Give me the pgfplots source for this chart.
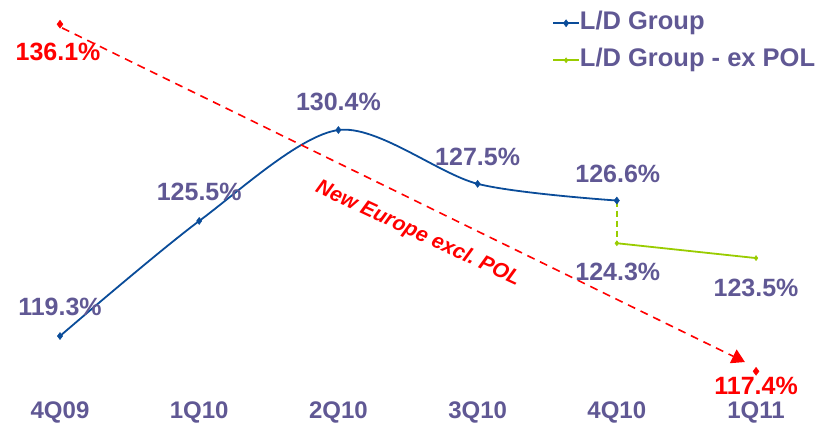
\documentclass[border=0pt]{standalone}
\usepackage{pgfplots}
\pgfplotsset{compat=1.18}
\usepackage{fontspec}
\setmainfont{Liberation Sans}
\usetikzlibrary{arrows.meta}
\definecolor{txt}{RGB}{96,88,148}
\definecolor{ldblue}{RGB}{10,76,153}
\definecolor{ldgreen}{RGB}{153,204,0}
\definecolor{myred}{RGB}{255,0,0}
\frenchspacing
\begin{document}
\begin{tikzpicture}
\begin{axis}[
  scale only axis, width=823pt, height=428pt,
  xmin=-0.431, xmax=5.481, ymin=114.34, ymax=137.40,
  axis line style={draw=none}, major tick length=0pt,
  xtick={0,1,2,3,4,5},
  xticklabels={4Q09,1Q10,2Q10,3Q10,4Q10,1Q11},
  xticklabel style={anchor=center, yshift=16pt, text=txt, font=\fontsize{24}{28}\selectfont\bfseries},
  ytick=\empty,
  clip=false,
  legend style={draw=none, fill=none, inner sep=0pt, at={(axis cs:3.534,136.81)}, anchor=north west,
    font=\fontsize{25.5}{30}\selectfont\bfseries, text=txt, row sep=13pt,
    nodes={inner sep=0pt, text height=18pt, text depth=6pt},
    /tikz/every even column/.append style={column sep=9pt}},
  legend cell align=left,
  legend image code/.code={\draw[#1] (0pt,0pt) -- (26pt,0pt); \draw[#1, mark repeat=1] plot coordinates {(13pt,0pt)};},
]
\draw[draw=none] (rel axis cs:0,0) rectangle (rel axis cs:1,1);
% Blue L/D Group
\addplot[ldblue, line width=1.8pt, smooth, tension=0.5, mark=diamond*, mark size=3.5pt, mark options={solid, line width=0.5pt}]
  coordinates {(0,119.3) (1,125.5) (2,130.4) (3,127.5) (4,126.6)};
\addlegendentry{L/D Group}
% Green ex POL
\addplot[ldgreen, line width=1.8pt, mark=diamond*, mark size=2.5pt, mark options={solid, line width=0.5pt}]
  coordinates {(4,124.3) (5,123.5)};
\addlegendentry{L/D Group - ex POL}
\addplot[ldgreen, line width=1.8pt, dash pattern=on 6pt off 4pt, forget plot]
  coordinates {(4,126.6) (4,124.3)};
% Red New Europe
\addplot[myred, only marks, mark=diamond*, mark size=4pt, forget plot]
  coordinates {(0,136.1) (5,117.4)};
\addplot[myred, line width=1.6pt, dash pattern=on 8pt off 6pt, forget plot,
  -{Triangle[width=15pt,length=13pt]}]
  coordinates {(0.015,135.9) (4.92,117.9)};
% Labels
\begin{scope}[every node/.style={font=\fontsize{25}{30}\selectfont\bfseries, text=txt, inner sep=0pt}]
\node at (axis cs:0,120.86) {119.3\%};
\node at (axis cs:1,127.06) {125.5\%};
\node at (axis cs:2,131.91) {130.4\%};
\node at (axis cs:3,128.94) {127.5\%};
\node at (axis cs:4.007,128.03) {126.6\%};
\node at (axis cs:4.007,122.75) {124.3\%};
\node at (axis cs:5,121.89) {123.5\%};
\node[text=myred] at (axis cs:-0.014,134.60) {136.1\%};
\node[text=myred] at (axis cs:5,116.61) {117.4\%};
\end{scope}
\node[text=myred, font=\fontsize{21}{25}\selectfont\bfseries\itshape, rotate=-25, inner sep=0pt]
  at (axis cs:2.572,124.80) {New Europe excl. POL};
\end{axis}
\end{tikzpicture}
\end{document}
